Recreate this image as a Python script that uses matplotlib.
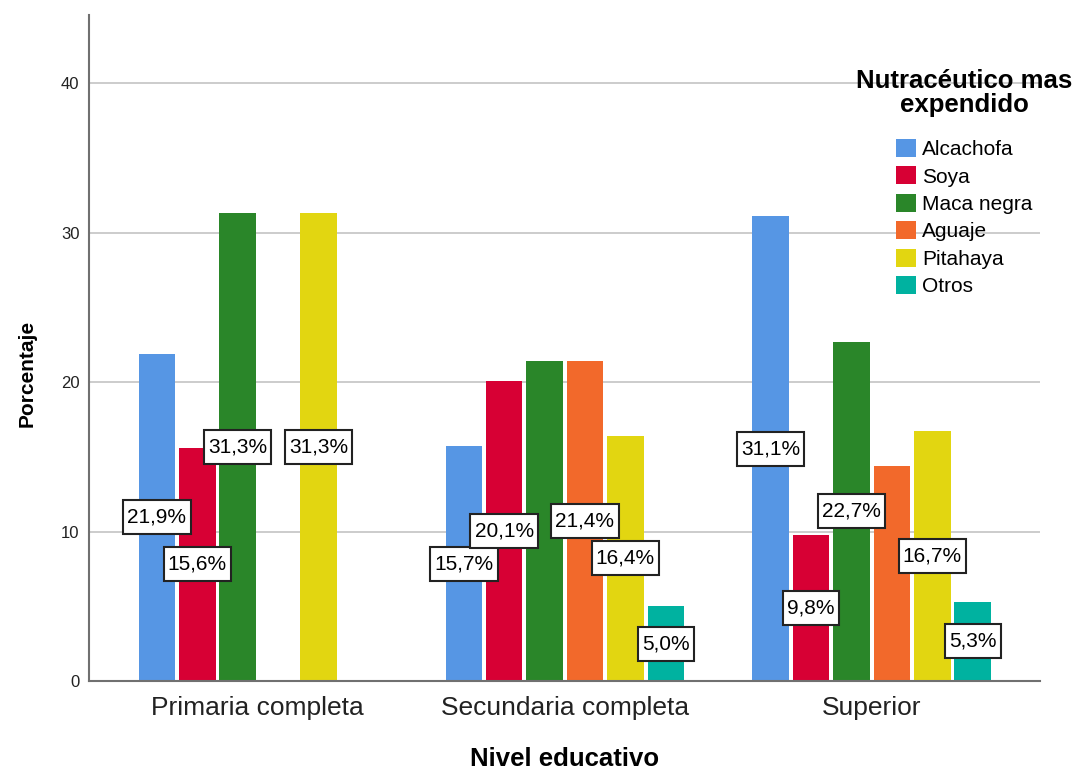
import numpy as np
import matplotlib
matplotlib.use("Agg")
import matplotlib.pyplot as plt

plt.rcParams['font.family'] = ['Liberation Sans', 'DejaVu Sans']

niveles = ['Primaria completa', 'Secundaria completa', 'Superior']
productos = ['Alcachofa', 'Soya', 'Maca negra', 'Aguaje', 'Pitahaya', 'Otros']
colores = ['#5696E4', '#D70034', '#2A8629', '#F2692B', '#E2D611', '#00B2A0']

# porcentaje por nivel educativo (una lista por producto)
alcachofa = [21.9, 15.7, 31.1]
soya = [15.6, 20.1, 9.8]
maca_negra = [31.3, 21.4, 22.7]
aguaje = [0.0, 21.4, 14.4]
pitahaya = [31.3, 16.4, 16.7]
otros = [0.0, 5.0, 5.3]
valores = [alcachofa, soya, maca_negra, aguaje, pitahaya, otros]

# etiquetas visibles en la figura original
etiquetas = [
    [True, True, True],
    [True, True, True],
    [True, False, True],
    [False, True, False],
    [True, True, True],
    [False, True, True],
]

fig = plt.figure(figsize=(10.78, 7.71), dpi=100)
ax = fig.add_axes([0.0826, 0.1167, 0.8821, 0.8638])

x = np.arange(len(niveles))
paso = 0.1316
ancho = 0.119

for i, prod in enumerate(productos):
    pos = x + (i - 2.5) * paso
    ax.bar(pos, valores[i], width=ancho, color=colores[i], label=prod, zorder=3)
    for j, v in enumerate(valores[i]):
        if etiquetas[i][j] and v > 0:
            txt = f"{v:.1f}%".replace('.', ',')
            ax.text(pos[j], v / 2, txt, ha='center', va='center', fontsize=15,
                    zorder=5,
                    bbox=dict(boxstyle='square,pad=0.2', mutation_aspect=1.8,
                              fc='white', ec='#222222', lw=1.5))

ax.set_xlim(-0.55, 2.548)
ax.set_ylim(0, 44.55)
ax.set_yticks([0, 10, 20, 30, 40])
ax.set_xticks(x)
ax.set_xticklabels(niveles)
ax.tick_params(axis='y', length=0, labelsize=12, pad=7, colors='#222222')
ax.tick_params(axis='x', length=0, labelsize=19, pad=11, colors='#222222')
ax.grid(axis='y', color='#C8C8C8', lw=1.3, zorder=0)

for s in ['top', 'right']:
    ax.spines[s].set_visible(False)
for s in ['left', 'bottom']:
    ax.spines[s].set_color('#707070')
    ax.spines[s].set_linewidth(1.5)
    ax.spines[s].set_zorder(4)

ax.set_xlabel('Nivel educativo', fontsize=18.5, fontweight='bold', labelpad=19)
ax.set_ylabel('Porcentaje', fontsize=15, fontweight='bold')
ax.yaxis.set_label_coords(-0.055, 0.4625)

# titulo de la leyenda aparte para controlar la separacion
fig.text(964 / 1078, 1 - 93 / 771, 'Nutracéutico mas\nexpendido',
         ha='center', va='center', fontsize=18.5, fontweight='bold',
         linespacing=1.03)
fig.legend(loc='upper left', bbox_to_anchor=(896 / 1078, 1 - 139 / 771),
           frameon=False, fontsize=15,
           handlelength=0.95, handleheight=0.95, handletextpad=0.3,
           labelspacing=0.35, borderpad=0, borderaxespad=0)

fig.savefig('out.png', dpi=100)
